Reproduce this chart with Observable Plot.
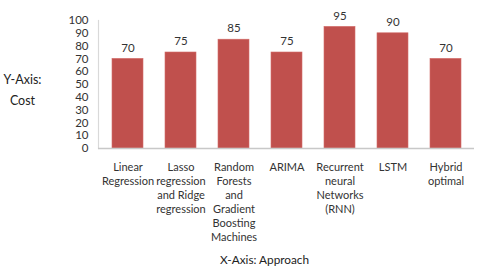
<!DOCTYPE html>
<html>
<head>
<meta charset="utf-8">
<script src="https://cdn.jsdelivr.net/npm/d3@7"></script>
<script src="https://cdn.jsdelivr.net/npm/@observablehq/plot@0.6"></script>
<style>
  html, body { margin: 0; padding: 0; background: #fff; }
  #chart svg { display: block; }
</style>
</head>
<body>
<div id="chart"></div>
<script>
const approaches = [
  "Linear Regression",
  "Lasso regression and Ridge regression",
  "Random Forests and Gradient Boosting Machines",
  "ARIMA",
  "Recurrent neural Networks (RNN)",
  "LSTM",
  "Hybrid optimal"
];
const tickLabels = [
  "Linear\nRegression",
  "Lasso\nregression\nand Ridge\nregression",
  "Random\nForests\nand\nGradient\nBoosting\nMachines",
  "ARIMA",
  "Recurrent\nneural\nNetworks\n(RNN)",
  "LSTM",
  "Hybrid\noptimal"
];
const costs = [70, 75, 85, 75, 95, 90, 70];
const yTicks = [0, 10, 20, 30, 40, 50, 60, 70, 80, 90, 100];

const data = approaches.map((a, i) => ({approach: a, cost: costs[i]}));
const labelOf = new Map(approaches.map((a, i) => [a, tickLabels[i]]));

const font = "Lato, 'Open Sans', sans-serif";

const chart = Plot.plot({
  width: 480,
  height: 275,
  marginLeft: 98,
  marginRight: 6,
  marginTop: 20,
  marginBottom: 127,
  style: {fontFamily: font, fontSize: "11px", color: "#404040", background: "#fff"},
  x: {domain: approaches, paddingInner: 0.423, paddingOuter: 0.21, label: null},
  y: {domain: [0, 100], label: null},
  marks: [
    Plot.barY(data, {x: "approach", y: "cost", fill: "#C0504D", stroke: "#D26B68", strokeWidth: 0.6}),
    Plot.text(data, {x: "approach", y: "cost", text: d => String(d.cost), dy: -11, fontSize: 11.5, fill: "#333"}),
    Plot.frame({anchor: "left", stroke: "#d9d9d9", strokeWidth: 1.2}),
    Plot.ruleY([0], {stroke: "#c8c8c8", strokeWidth: 1.5}),
    Plot.axisY({ticks: yTicks, tickSize: 0, tickPadding: 10, fontSize: 11.5, fill: "#333", label: null}),
    Plot.axisX({tickSize: 0, tickPadding: 13, tickFormat: d => labelOf.get(d), lineHeight: 1.27, fontSize: 11, fill: "#333", label: null}),
    Plot.text(["Y-Axis:\nCost"], {frameAnchor: "left", dx: -76, dy: 3, lineHeight: 1.67, fontSize: 12.5, fill: "#222", textAnchor: "middle"}),
    Plot.text(["X-Axis: Approach"], {frameAnchor: "bottom", dx: -22, dy: 115, fontSize: 11.8, fill: "#222"})
  ]
});
document.getElementById("chart").appendChild(chart);
</script>
</body>
</html>
